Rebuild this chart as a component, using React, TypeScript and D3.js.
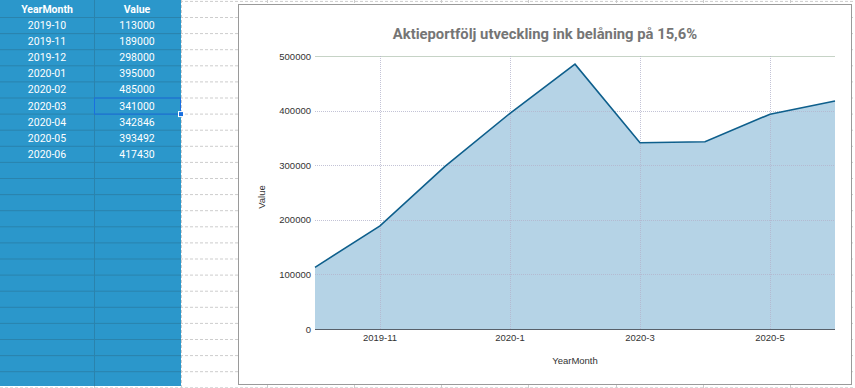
import { useEffect, useRef } from 'react';
import * as d3 from 'd3';

const months = ["2019-10", "2019-11", "2019-12", "2020-01", "2020-02", "2020-03", "2020-04", "2020-05", "2020-06"];
const values = [113000, 189000, 298000, 395000, 485000, 341000, 342846, 393492, 417430];
const xTickMonths = ["2019-11", "2020-01", "2020-03", "2020-05"];
const xTickLabels = ["2019-11", "2020-1", "2020-3", "2020-5"];
const yTicks = [0, 100000, 200000, 300000, 400000, 500000];
const tableHeaders = ["YearMonth", "Value"];
const chartTitle = "Aktieportfölj utveckling ink belåning på 15,6%";

const W = 855;
const H = 388;

const App = () => {
  const ref = useRef<SVGSVGElement | null>(null);

  useEffect(() => {
    document.body.style.margin = '0';
    const svg = d3.select(ref.current);
    svg.selectAll('*').remove();

    // spreadsheet background
    svg.append('rect').attr('width', W).attr('height', H).attr('fill', '#fff');

    const rowH = 16.1;
    const rowY = d3.range(-1, 24).map(k => 17 + k * rowH);
    const colX = [94, 181, 267, 354, 441, 528, 616, 703, 790];

    const grid = svg.append('g').attr('stroke', '#cdcdcd').attr('stroke-dasharray', '3,2');
    grid.selectAll('line.r').data(rowY).enter().append('line')
      .attr('x1', 0).attr('x2', W).attr('y1', d => d + 0.5).attr('y2', d => d + 0.5);
    grid.selectAll('line.c').data(colX).enter().append('line')
      .attr('y1', 0).attr('y2', H).attr('x1', d => d + 0.5).attr('x2', d => d + 0.5);

    // blue data table
    const tbl = svg.append('g');
    tbl.append('rect').attr('x', 0).attr('y', 0).attr('width', 181).attr('height', 386).attr('fill', '#2b97cb');
    tbl.selectAll('line.tr').data(rowY.filter(d => d > 5 && d < 386)).enter().append('line')
      .attr('x1', 0).attr('x2', 181).attr('y1', d => d + 0.5).attr('y2', d => d + 0.5)
      .attr('stroke', '#2a83ad');
    tbl.append('line').attr('x1', 94.5).attr('x2', 94.5).attr('y1', 0).attr('y2', 386).attr('stroke', '#2a83ad');

    const colCenters = [47, 137];
    tbl.selectAll('text.h').data(tableHeaders).enter().append('text')
      .attr('x', (d, i) => colCenters[i]).attr('y', 12.5)
      .attr('text-anchor', 'middle').attr('fill', '#fff')
      .attr('font-family', 'Roboto').attr('font-weight', 'bold').attr('font-size', 10.5)
      .text(d => d);
    months.forEach((m, i) => {
      const y = 17 + i * rowH + 12;
      tbl.append('text').attr('x', colCenters[0]).attr('y', y).attr('text-anchor', 'middle')
        .attr('fill', '#fff').attr('font-family', 'Roboto').attr('font-size', 10.5).text(m);
      tbl.append('text').attr('x', colCenters[1]).attr('y', y).attr('text-anchor', 'middle')
        .attr('fill', '#fff').attr('font-family', 'Roboto').attr('font-size', 10.5).text(String(values[i]));
    });
    // selected cell
    const selRow = 5;
    tbl.append('rect').attr('x', 94.5).attr('y', 17 + selRow * rowH + 0.5)
      .attr('width', 86).attr('height', rowH).attr('fill', 'none').attr('stroke', '#1a6fe0');
    tbl.append('rect').attr('x', 178.5).attr('y', 17 + (selRow + 1) * rowH - 2)
      .attr('width', 5).attr('height', 5).attr('fill', '#1a6fe0').attr('stroke', '#fff');

    // chart frame
    svg.append('rect').attr('x', 238.5).attr('y', 4.5).attr('width', 613).attr('height', 380)
      .attr('fill', '#fff').attr('stroke', '#9a9a9a');

    const x = d3.scalePoint<string>().domain(months).range([315, 835]);
    const y = d3.scaleLinear().domain([0, 500000]).range([329, 56]);

    const area = d3.area<number>()
      .x((d, i) => x(months[i]) as number)
      .y0(y(0)).y1(d => y(d));
    const line = d3.line<number>()
      .x((d, i) => x(months[i]) as number)
      .y(d => y(d));

    svg.append('path').datum(values).attr('d', area).attr('fill', '#b5d3e6');

    // gridlines
    const g = svg.append('g');
    g.selectAll('line.yg').data(yTicks.filter(t => t > 0)).enter().append('line')
      .attr('x1', 315).attr('x2', 835)
      .attr('y1', d => Math.round(y(d)) + 0.5).attr('y2', d => Math.round(y(d)) + 0.5)
      .attr('stroke', d => d === 500000 ? '#c6d3c6' : '#b4b4cc')
      .attr('stroke-opacity', d => d === 500000 ? 1 : 0.8)
      .attr('stroke-dasharray', d => d === 500000 ? null : '1,1');
    g.selectAll('line.xg').data(xTickMonths).enter().append('line')
      .attr('x1', d => Math.round(x(d) as number) + 0.5).attr('x2', d => Math.round(x(d) as number) + 0.5)
      .attr('y1', y(500000)).attr('y2', y(0))
      .attr('stroke', '#b4b4cc').attr('stroke-opacity', 0.8).attr('stroke-dasharray', '1,1');

    svg.append('path').datum(values).attr('d', line)
      .attr('fill', 'none').attr('stroke', '#0e5f8c').attr('stroke-width', 1.6);

    svg.append('line').attr('x1', 315).attr('x2', 835)
      .attr('y1', Math.round(y(0)) + 0.5).attr('y2', Math.round(y(0)) + 0.5)
      .attr('stroke', '#58606a');

    // tick labels
    svg.selectAll('text.yt').data(yTicks).enter().append('text')
      .attr('x', 311).attr('y', d => y(d) + 3.5).attr('text-anchor', 'end')
      .attr('font-family', 'Liberation Sans').attr('font-size', 9.5).attr('fill', '#333')
      .text(d => String(d));
    svg.selectAll('text.xt').data(xTickMonths).enter().append('text')
      .attr('x', d => x(d) as number).attr('y', 341).attr('text-anchor', 'middle')
      .attr('font-family', 'Liberation Sans').attr('font-size', 9.5).attr('fill', '#333')
      .text((d, i) => xTickLabels[i]);

    svg.append('text').attr('x', 575).attr('y', 364).attr('text-anchor', 'middle')
      .attr('font-family', 'Liberation Sans').attr('font-size', 9.5).attr('fill', '#333')
      .text('YearMonth');
    svg.append('text').attr('transform', 'translate(265,197) rotate(-90)').attr('text-anchor', 'middle')
      .attr('font-family', 'Liberation Sans').attr('font-size', 9.5).attr('fill', '#333')
      .text('Value');

    svg.append('text').attr('x', 545).attr('y', 39).attr('text-anchor', 'middle')
      .attr('font-family', 'Roboto').attr('font-weight', 'bold').attr('font-size', 14.8)
      .attr('fill', '#757575').text(chartTitle);
  }, []);

  return <svg ref={ref} width={W} height={H} style={{ display: 'block' }}></svg>;
};

export default App;
